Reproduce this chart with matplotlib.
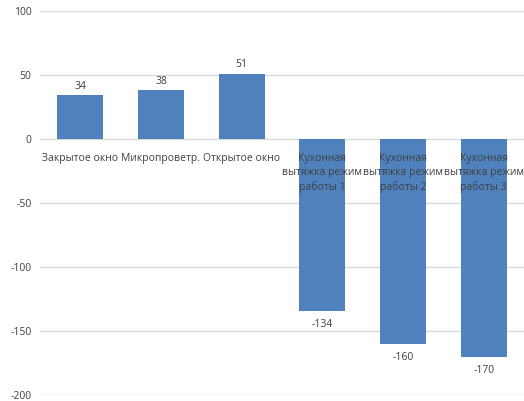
import matplotlib
matplotlib.use('Agg')
import matplotlib.pyplot as plt

categories = [
    "Закрытое окно",
    "Микропроветр.",
    "Открытое окно",
    "Кухонная\nвытяжка режим\nработы 1",
    "Кухонная\nвытяжка режим\nработы 2",
    "Кухонная\nвытяжка режим\nработы 3",
]
values = [34, 38, 51, -134, -160, -170]
y_ticks = [-200, -150, -100, -50, 0, 50, 100]

plt.rcParams['font.family'] = ['Open Sans', 'DejaVu Sans']

fig = plt.figure(figsize=(5.24, 4.01), dpi=100)
ax = fig.add_axes([40 / 524, 1 - 395 / 401, 484 / 524, 384 / 401])

x = range(len(categories))
bars = ax.bar(x, values, width=0.57, color='#4F81BD', zorder=2)

ax.set_xlim(-0.5, len(categories) - 0.5)
ax.set_ylim(-200, 100)
ax.set_yticks(y_ticks)
ax.set_yticklabels([str(t) for t in y_ticks], fontsize=7.5, color='#404040')
ax.set_xticks([])
ax.tick_params(axis='y', length=0, pad=6)
ax.grid(axis='y', color='#D9D9D9', linewidth=1, zorder=0)
for s in ax.spines.values():
    s.set_visible(False)

# value labels above positive bars, below negative ones
for bar, v in zip(bars, values):
    off = 2.5 if v > 0 else -6
    ax.annotate(str(v), (bar.get_x() + bar.get_width() / 2, v),
                xytext=(0, off), textcoords='offset points',
                ha='center', va='bottom' if v > 0 else 'top',
                fontsize=7.5, color='#404040', zorder=3)

# category names sit just under the zero line
for i, name in enumerate(categories):
    ax.annotate(name, (i, 0), xytext=(0, -10), textcoords='offset points',
                ha='center', va='top', fontsize=7.5, color='#404040',
                linespacing=1.35, zorder=3)

fig.savefig('out.png', dpi=100)
